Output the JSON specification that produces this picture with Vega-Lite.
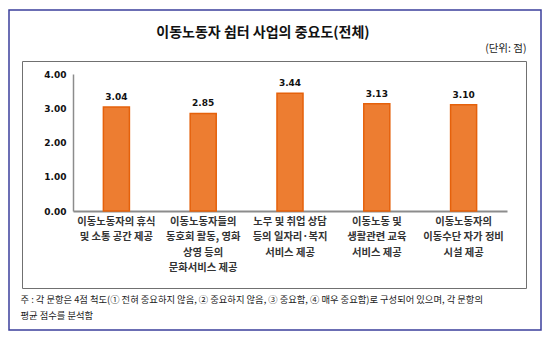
{
  "$schema": "https://vega.github.io/schema/vega-lite/v6.json",
  "width": 532,
  "height": 320,
  "autosize": {"type": "none"},
  "padding": {"left": 9, "top": 10, "right": 9, "bottom": 11},
  "background": "white",
  "config": {
    "view": {"stroke": "#3b3f9c", "strokeWidth": 1.5},
    "font": "Noto Sans CJK KR"
  },
  "title": {
    "text": "이동노동자 쉼터 사업의 중요도(전체)",
    "anchor": "middle",
    "frame": "group",
    "orient": "top",
    "offset": 0,
    "dy": 37,
    "dx": -12,
    "baseline": "middle",
    "font": "Noto Sans CJK KR",
    "fontSize": 14,
    "fontWeight": "bold",
    "color": "#111111"
  },
  "data": {
    "values": [
      {"item": "이동노동자의 휴식|및 소통 공간 제공", "value": 3.04},
      {"item": "이동노동자들의|동호회 활동, 영화|상영 등의|문화서비스 제공", "value": 2.85},
      {"item": "노무 및 취업 상담|등의 일자리·복지|서비스 제공", "value": 3.44},
      {"item": "이동노동 및|생활관련 교육|서비스 제공", "value": 3.13},
      {"item": "이동노동자의|이동수단 자가 정비|시설 제공", "value": 3.10}
    ]
  },
  "resolve": {
    "scale": {"x": "independent", "y": "independent"},
    "axis": {"x": "independent", "y": "independent"}
  },
  "layer": [
    {
      "mark": {"type": "point", "opacity": 0},
      "encoding": {
        "x": {
          "field": "value", "type": "quantitative",
          "scale": {"domain": [0, 4], "range": [13, 517], "nice": false, "zero": false},
          "axis": {"orient": "top", "offset": -51, "labels": false, "ticks": false, "grid": false, "title": null, "domainColor": "#707070", "domainWidth": 1}
        },
        "y": {
          "field": "value", "type": "quantitative",
          "scale": {"domain": [0, 4], "range": [278, 51], "nice": false, "zero": false},
          "axis": {"orient": "right", "offset": -15, "labels": false, "ticks": false, "grid": false, "title": null, "domainColor": "#707070", "domainWidth": 1}
        }
      }
    },
    {
      "mark": {"type": "point", "opacity": 0},
      "encoding": {
        "x": {
          "field": "value", "type": "quantitative",
          "scale": {"domain": [0, 4], "range": [13, 517], "nice": false, "zero": false},
          "axis": {"orient": "bottom", "offset": -42, "labels": false, "ticks": false, "grid": false, "title": null, "domainColor": "#707070", "domainWidth": 1}
        },
        "y": {
          "field": "value", "type": "quantitative",
          "scale": {"domain": [0, 4], "range": [278, 51], "nice": false, "zero": false},
          "axis": {"orient": "left", "offset": -13, "labels": false, "ticks": false, "grid": false, "title": null, "domainColor": "#707070", "domainWidth": 1}
        }
      }
    },
    {
      "encoding": {
        "x": {
          "field": "item", "type": "nominal", "sort": null,
          "scale": {"range": [64, 498], "paddingInner": 0.7, "paddingOuter": 0.35},
          "axis": {
            "orient": "bottom", "offset": -119,
            "labelExpr": "split(datum.value, '|')",
            "labelAngle": 0, "labelFont": "Noto Sans CJK KR", "labelFontWeight": "bold",
            "labelFontSize": 10.3, "labelColor": "#333333", "labelLineHeight": 15.5,
            "labelPadding": 5, "labelBaseline": "top", "labelLimit": 0, "labelOverlap": false,
            "ticks": false, "grid": false, "domainColor": "#8c8c8c", "domainWidth": 2,
            "title": ["주 : 각 문항은 4점 척도(① 전혀 중요하지 않음, ② 중요하지 않음, ③ 중요함, ④ 매우 중요함)로 구성되어 있으며, 각 문항의", "\u00a0\u00a0\u00a0\u00a0\u00a0\u00a0평균 점수를 분석함"],
            "titleX": 11, "titleY": 88, "titleAlign": "left", "titleAnchor": "start", "titleBaseline": "middle",
            "titleFont": "Noto Sans CJK KR", "titleFontSize": 9.3, "titleFontWeight": "normal",
            "titleColor": "#222222", "titleLineHeight": 16
          }
        },
        "y": {
          "field": "value", "type": "quantitative",
          "scale": {"domain": [0, 4], "range": [201, 64], "nice": false},
          "axis": {
            "orient": "left", "offset": -64,
            "values": [0, 1, 2, 3, 4], "format": ".2f",
            "labelFont": "DejaVu Sans", "labelFontWeight": "bold", "labelFontSize": 9,
            "labelColor": "#111111", "labelPadding": 7,
            "ticks": false, "grid": false, "domainColor": "#8c8c8c", "domainWidth": 1.5,
            "title": "(단위: 점)", "titleX": 453, "titleY": 38, "titleAngle": 0,
            "titleAlign": "right", "titleBaseline": "middle",
            "titleFont": "Noto Sans CJK KR", "titleFontSize": 10.5, "titleFontWeight": "normal",
            "titleColor": "#222222"
          }
        }
      },
      "layer": [
        {"mark": {"type": "bar", "color": "#ED7D31", "stroke": "#E5610B", "strokeWidth": 1.5}},
        {
          "mark": {"type": "text", "baseline": "bottom", "dy": -5, "font": "DejaVu Sans", "fontWeight": "bold", "fontSize": 9, "color": "#111111"},
          "encoding": {"text": {"field": "value", "type": "quantitative", "format": ".2f"}}
        }
      ]
    }
  ]
}
